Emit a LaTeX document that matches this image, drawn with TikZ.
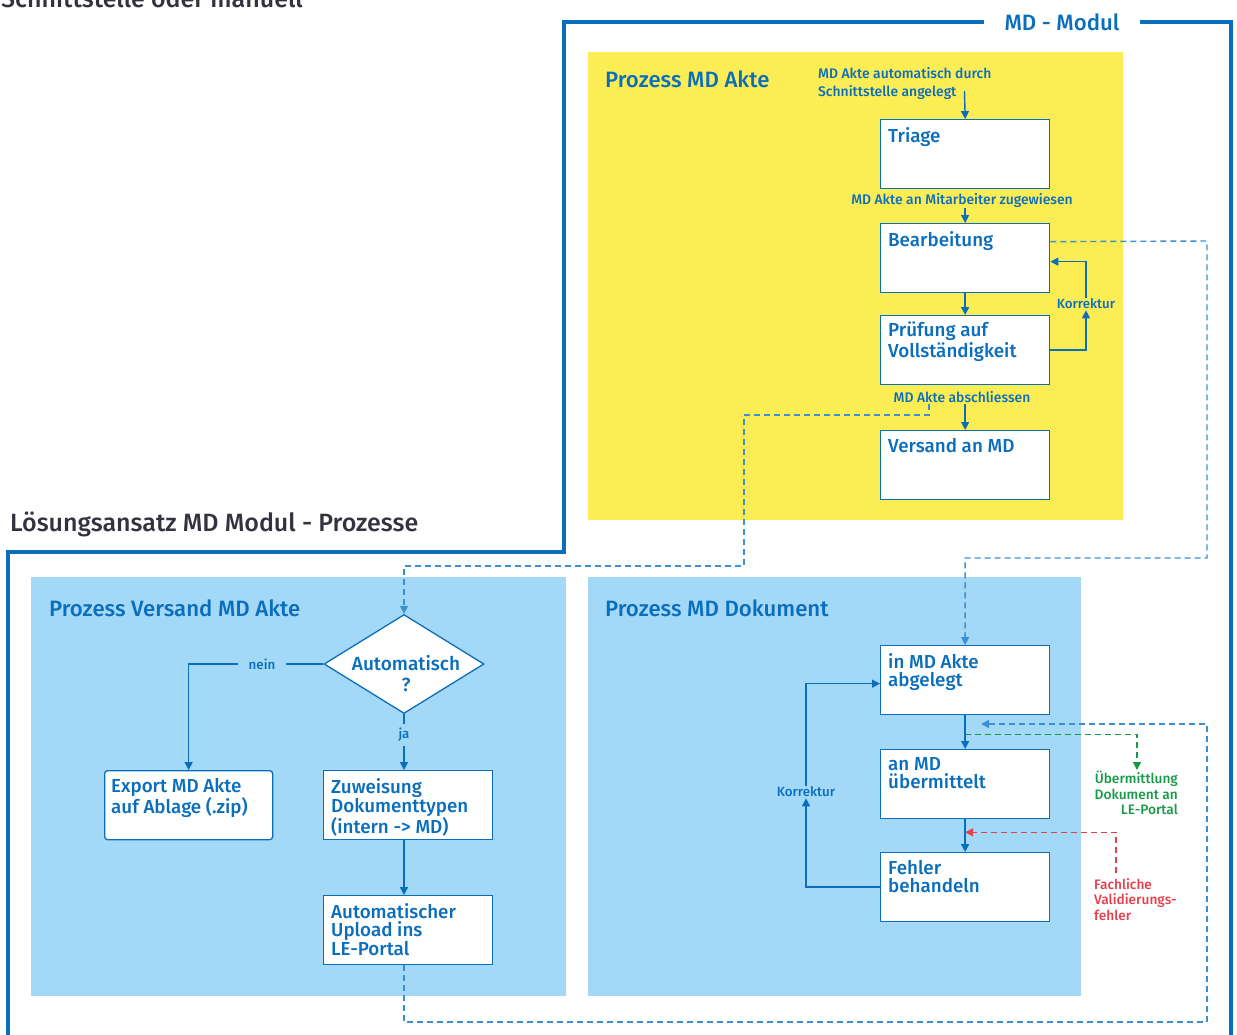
\documentclass[tikz,border=0pt]{standalone}
\usepackage{fontspec}
\setmainfont{Fira Sans}[UprightFont=* Medium, BoldFont=* SemiBold]
\usetikzlibrary{arrows.meta,shapes.geometric}

\definecolor{mdblue}{HTML}{0A6EBD}
\definecolor{dashblue}{HTML}{3C8FD3}
\definecolor{procyellow}{HTML}{FDED55}
\definecolor{procblue}{HTML}{A3D9F6}
\definecolor{headgray}{HTML}{33333F}
\definecolor{okgreen}{HTML}{169A46}
\definecolor{errred}{HTML}{E63F4C}

\begin{document}
\begin{tikzpicture}[x=1pt,y=-1pt,
  tip/.tip={Triangle[length=8pt,width=8pt]},
  box/.style={draw=mdblue, line width=1.3pt, fill=white, minimum width=169pt,
    minimum height=69pt, inner sep=0pt, anchor=north west},
  boxtext/.style={text=mdblue, font=\fontsize{18.8}{18}\selectfont, align=left,
    inner sep=0pt, anchor=north west},
  title/.style={text=mdblue, font=\fontsize{22.2}{26}\selectfont, inner sep=0pt, anchor=base west},
  heading/.style={text=headgray, font=\fontsize{25}{30}\selectfont, inner sep=0pt},
  small/.style={text=mdblue, font=\fontsize{13.9}{18}\selectfont, inner sep=1pt},
  tiny/.style={text=mdblue, font=\fontsize{13.3}{15}\selectfont, inner sep=1pt},
  flow/.style={draw=mdblue, line width=1.4pt, -tip},
  plain/.style={draw=mdblue, line width=1.4pt},
  dashflow/.style={draw=dashblue, line width=1.4pt, dash pattern=on 6pt off 4pt},
  frame/.style={draw=mdblue, line width=4pt, line join=miter}
]
\useasboundingbox (0,0) rectangle (1237,1034);

% headings
\node[heading, anchor=base east] (topnote) at (303,7) {Schnittstelle oder manuell};
\node[heading, anchor=base west] (mainhead) at (10,531) {Lösungsansatz MD Modul - Prozesse};

% module frame
\node[text=mdblue, font=\fontsize{22.2}{26}\selectfont, inner xsep=20pt, inner ysep=2pt] (modul) at (1062,22) {MD - Modul};
\draw[frame] (8,1040) -- (8,552) -- (564,552) -- (564,22) -- (modul.west);
\draw[frame] (modul.east) -- (1231,22) -- (1231,1040);

% process areas
\fill[procyellow] (588,52) rectangle (1123,520);
\fill[procblue] (31,577) rectangle (566,996);
\fill[procblue] (588,577) rectangle (1081,996);

\node[title] (titleakte) at (605,87) {Prozess MD Akte};
\node[title] (titleversand) at (49,616) {Prozess Versand MD Akte};
\node[title] (titledok) at (605,616) {Prozess MD Dokument};

% ---------- Prozess MD Akte ----------
\node[box] (triage) at (880,119) {};
\node[boxtext] (ttriage) at (888,127) {Triage};
\node[box] (bearb) at (880,223) {};
\node[boxtext] (tbearb) at (888,231) {Bearbeitung};
\node[box] (pruef) at (880,315) {};
\node[boxtext] (tpruef) at (888,322) {Prüfung auf\\Vollständigkeit};
\node[box] (versand) at (880,430) {};
\node[boxtext] (tversand) at (888,438) {Versand an MD};

\node[small, align=left, anchor=north west] (lblstart) at (817,66) {MD Akte automatisch durch\\Schnittstelle angelegt};
\coordinate (startin) at (964.5,91);
\draw[flow] (startin) -- (triage.north);

\node[small] (lblassign) at (962,200) {MD Akte an Mitarbeiter zugewiesen};
\draw[flow] (lblassign.south -| bearb.north) -- (bearb.north);

\draw[flow] (bearb.south) -- (pruef.north);

\node[tiny] (korr1) at (1086,304) {Korrektur};
\draw[flow] (pruef.east) -| (korr1.south);
\draw[flow] (korr1.north) |- ([yshift=-3.5pt]bearb.east);

\node[small] (lblclose) at (962,397) {MD Akte abschliessen};
\draw[flow] (lblclose.south -| versand.north) -- (versand.north);

% ---------- Prozess Versand MD Akte ----------
\node[diamond, draw=mdblue, line width=1.3pt, fill=white, aspect=1.6,
  minimum width=160pt, minimum height=99pt, inner sep=0pt] (auto) at (404,664) {};
\node[text=mdblue, font=\fontsize{19}{21}\selectfont, align=center, inner sep=0pt] (tauto) at (406,674) {Automatisch\\?};

\node[box, rounded corners=3pt, minimum width=168pt] (export) at (104,770) {};
\node[boxtext] (texport) at (111,778) {Export MD Akte\\auf Ablage (.zip)};
\node[box] (zuw) at (323,770) {};
\node[boxtext] (tzuw) at (331,778) {Zuweisung\\Dokumenttypen\\(intern -> MD)};
\node[box] (upload) at (323,895) {};
\node[boxtext] (tupload) at (331,903) {Automatischer\\Upload ins\\LE-Portal};

\node[tiny] (nein) at (262,664) {nein};
\draw[plain] (auto.west) -- ([xshift=10pt]nein.east |- auto.west);
\draw[flow] ([xshift=-10pt]nein.west |- auto.west) -| (export.north);

\node[tiny] (ja) at (404,735) {ja};
\draw[plain] (auto.south) -- ([yshift=3pt]ja.north);
\draw[flow] ([yshift=-3pt]ja.south) -- (ja.south |- zuw.north);
\draw[flow] (ja.south |- zuw.south) -- (ja.south |- upload.north);

% ---------- Prozess MD Dokument ----------
\node[box] (abgelegt) at (880,645) {};
\node[boxtext] (tabgelegt) at (888,653) {in MD Akte\\abgelegt};
\node[box] (uebermittelt) at (880,749) {};
\node[boxtext] (tuebermittelt) at (888,757) {an MD\\übermittelt};
\node[box] (fehler) at (880,852) {};
\node[boxtext] (tfehler) at (888,860) {Fehler\\behandeln};

\draw[flow] (abgelegt.south) -- (uebermittelt.north);
\draw[flow] (uebermittelt.south) -- (fehler.north);

\node[tiny] (korr2) at (806,792) {Korrektur};
\draw[flow] (fehler.west) -| (korr2.south);
\draw[flow] (korr2.north) |- ([yshift=-3.5pt]abgelegt.west);

% hand-over between the processes
\draw[dashflow, -tip] ([xshift=-33pt]lblclose.south) -- ++(0,11) -| (744,566) -| (auto.north);
\draw[dashflow, -tip] ([yshift=16.5pt]bearb.east) -- (1207,241) -- (1207,558) -| (abgelegt.north);
\coordinate (uploadin) at (981,724);
\draw[dashflow, -tip] (ja.south |- upload.south) -- (404,1022) -- (1207,1022) |- (uploadin);

% transfer to the portal
\node[text=okgreen, font=\fontsize{13.7}{15.5}\selectfont, align=right, inner sep=0pt, anchor=north east] (lblgreen) at (1178,771) {Übermittlung\\Dokument an\\LE-Portal};
\coordinate (greentip) at (1137,770);
\draw[draw=okgreen, line width=1.4pt, dash pattern=on 6pt off 4pt, -tip] ([yshift=-19pt]abgelegt.south) -| (greentip);

% validation errors
\node[text=errred, font=\fontsize{13.7}{15.5}\selectfont, align=left, inner sep=0pt, anchor=north west] (lblred) at (1094,878) {Fachliche\\Validierungs-\\fehler};
\coordinate (redstart) at (1116,873);
\draw[draw=errred, line width=1.4pt, dash pattern=on 6pt off 4pt, -tip] (redstart) |- ([yshift=-13pt]uebermittelt.south);
\end{tikzpicture}
\end{document}
